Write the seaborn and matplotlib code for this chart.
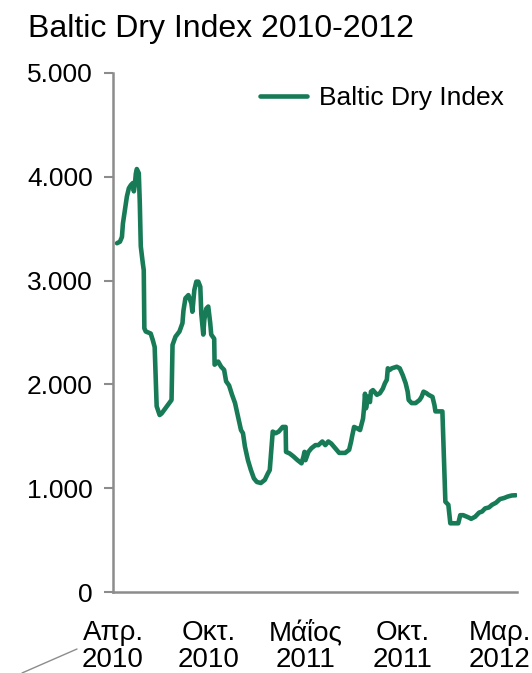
import numpy as np
import pandas as pd
import matplotlib
matplotlib.use("Agg")
import matplotlib.pyplot as plt
from matplotlib.lines import Line2D
from matplotlib.ticker import FuncFormatter
import seaborn as sns

# position along the time axis (roughly weeks from start of April 2010)
t = [0, 0.75, 1.25, 1.5, 2, 2.5, 3, 3.5, 4, 4.25, 4.5, 4.75, 5, 5.5, 5.75, 6, 6.5, 6.75,
     6.9, 7.25, 8.5, 9, 9.5, 10, 10.75, 11.25, 12.5, 13.75, 14, 14.75, 15.75, 16.5, 16.75,
     17.25, 18, 18.75, 19, 19.5, 20, 20.5, 21, 21.25, 21.75, 22, 22.5, 23, 23.5, 23.75,
     24.5, 24.6, 25.5, 26.25, 27, 27.5, 28.25, 29, 29.75, 30.5, 31.25, 31.75, 32.25, 33,
     33.75, 34.5, 35.25, 36.25, 37.25, 38, 38.5, 39.25, 40, 40.75, 41.75, 42.5, 42.6, 43.5,
     44.5, 45.5, 46.5, 47, 47.25, 47.5, 48.25, 49, 50, 50.75, 51.75, 52.5, 53.25, 54, 55,
     56, 57.5, 58.5, 59, 59.25, 59.75, 60.5, 61.25, 62, 62.25, 62.5, 62.75, 63.25, 63.75,
     64, 64.5, 65.5, 66.25, 67, 67.5, 68, 68.25, 68.75, 69.25, 70.5, 71.25, 72, 72.75,
     73.25, 73.5, 74.25, 75.25, 76.25, 76.75, 77.25, 78, 78.5, 79.5, 80, 80.25, 82, 82.75,
     83.5, 84, 86, 86.5, 87.25, 88.5, 89.25, 90.25, 91.25, 92, 92.75, 93.75, 94.5, 95.5,
     96.5, 97.5, 98.5, 99.5, 100.5]

bdi = [3360, 3375, 3420, 3550, 3680, 3810, 3890, 3920, 3940, 3860, 3920, 4030, 4075, 4035,
       3750, 3330, 3170, 3100, 2540, 2510, 2490, 2430, 2360, 1790, 1705, 1720, 1785, 1850,
       2380, 2460, 2510, 2590, 2710, 2830, 2860, 2780, 2700, 2910, 2990, 2990, 2940, 2680,
       2480, 2620, 2730, 2750, 2590, 2480, 2440, 2190, 2220, 2170, 2140, 2030, 1990, 1900,
       1820, 1690, 1560, 1530, 1400, 1270, 1175, 1095, 1060, 1050, 1080, 1140, 1175, 1545,
       1530, 1545, 1590, 1590, 1350, 1335, 1305, 1270, 1240, 1305, 1350, 1270, 1350, 1385,
       1415, 1415, 1450, 1415, 1450, 1430, 1385, 1340, 1340, 1370, 1450, 1500, 1590, 1577,
       1560, 1670, 1770, 1910, 1770, 1880, 1830, 1930, 1945, 1900, 1915, 1960, 2010, 2045,
       2155, 2140, 2155, 2170, 2155, 2090, 2010, 1930, 1850, 1820, 1820, 1850, 1880, 1930,
       1915, 1900, 1880, 1800, 1740, 1740, 870, 840, 662, 662, 740, 740, 720, 705, 725,
       765, 775, 805, 815, 840, 860, 895, 905, 920, 930, 932]

tick_pos = [-1, 23, 47.5, 72, 96.5]
tick_labels = ["Απρ.\n2010", "Οκτ.\n2010", "Μάΐος\n2011", "Οκτ.\n2011", "Μαρ.\n2012"]

df = pd.DataFrame({"t": t, "Baltic Dry Index": bdi})

sns.set_style("white")
plt.rcParams["font.family"] = ["Liberation Sans", "DejaVu Sans"]
plt.rcParams["text.color"] = "black"
plt.rcParams["xtick.color"] = "black"
plt.rcParams["ytick.color"] = "black"

fig = plt.figure(figsize=(5.32, 6.73), dpi=100)
ax = fig.add_axes([113 / 532, 1 - 592 / 673, 404 / 532, (592 - 73) / 673])

green = "#187b57"
grey = "#8c8c8c"
sns.lineplot(data=df, x="t", y="Baltic Dry Index", ax=ax, color=green, linewidth=3.3,
             estimator=None, sort=False, label="Baltic Dry Index")

ax.set_xlim(-0.4, 100.8)
ax.set_ylim(0, 5000)
ax.set_yticks([0, 1000, 2000, 3000, 4000, 5000])
ax.yaxis.set_major_formatter(FuncFormatter(lambda v, p: f"{v:,.0f}".replace(",", ".")))
ax.set_xticks(tick_pos)
ax.set_xticklabels(tick_labels, fontsize=20, linespacing=1.05)
ax.tick_params(axis="y", labelsize=19, length=6.5, width=1.5, color=grey,
               labelcolor="black", pad=8, left=True)
ax.tick_params(axis="x", length=0, pad=20, labelcolor="black")
ax.set_xlabel("")
ax.set_ylabel("")

sns.despine(ax=ax)
for s in ["left", "bottom"]:
    ax.spines[s].set_color(grey)
    ax.spines[s].set_linewidth(1.8)

leg = ax.legend(loc="upper right", bbox_to_anchor=(1.0, 1.0), frameon=False, fontsize=19,
                handlelength=1.8, handletextpad=0.45, borderaxespad=0.1)
for txt in leg.get_texts():
    txt.set_color("black")

fig.text(28 / 532, 1 - 37 / 673, "Baltic Dry Index 2010-2012", fontsize=23,
         va="baseline", color="black")
fig.add_artist(Line2D([22 / 532, 77 / 532], [0, 1 - 649 / 673], color=grey, linewidth=1))

fig.savefig("out.png", dpi=100)
